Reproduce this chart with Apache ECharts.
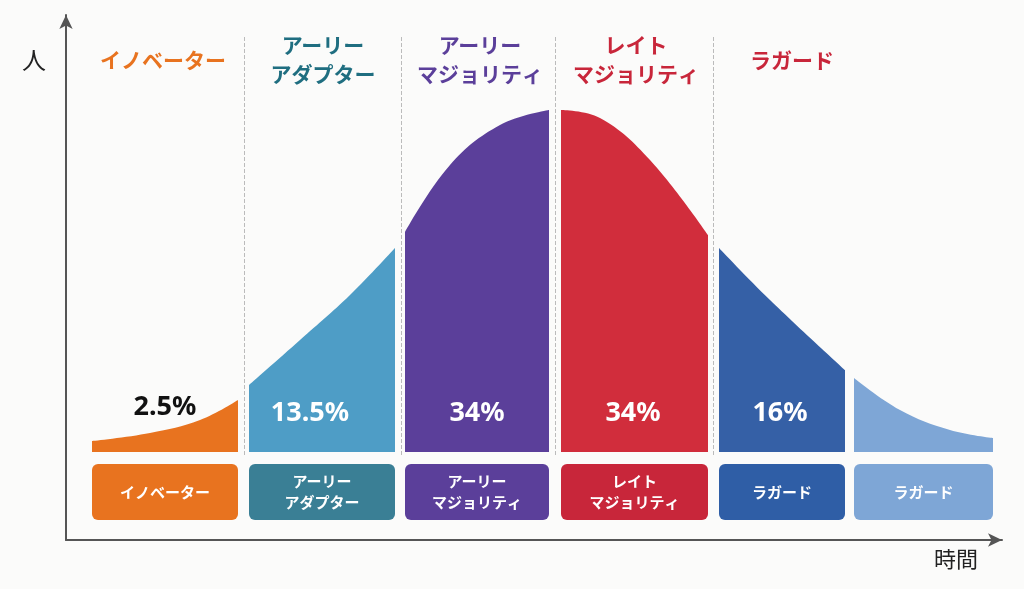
<!DOCTYPE html>
<html><head><meta charset="utf-8">
<script src="https://cdn.jsdelivr.net/npm/echarts@6/dist/echarts.min.js"></script>
<style>html,body{margin:0;background:#fbfbfa}#c{width:1024px;height:589px}</style>
</head><body><div id="c"></div>
<script>
// x in pixel-like units from the y axis; heights in units above the x axis
const segNames = ['イノベーター','アーリー\nアダプター','アーリー\nマジョリティ','レイト\nマジョリティ','ラガード','ラガード'];
const percents = ['2.5%','13.5%','34%','34%','16%'];
const curveColors = ['#E8731F','#4E9DC6','#5B3F9A','#D12D3C','#3560A6','#7EA6D6'];
const boxColors = ['#E8731F','#3A7F95','#5B3F9A','#C8263A','#2F5EA6','#7EA6D6'];
const titleColors = ['#E8731F','#1F6E80','#5B3F9A','#C8263A','#C8263A'];
const segX = [[26,84,134,172],[183,234,284,329],[339,384,434,483],[495,534,584,642],[653,704,779],[788,834,884,927]];
const segH = [[99,107,120,140],[155,200,245,292],[308,375,415,430],[430,422,380,305],[292,240,170],[162,130,110,102]];
const segRange = [[26,172],[183,329],[339,483],[495,642],[653,779],[788,927]];
const baseH = 88, boxTop = 76, boxBottom = 20;
const dividers = [178,335,489,647];
const titleX = [97,257,414,570,726];
const pctPos = [[99,133],[244,127],[411,127],[567,127],[714,127]];

function textSeries(points, texts, styleFn){
  return {type:'custom',z:10,silent:true,data:points.map((p,i)=>[p[0],p[1],i]),
    renderItem:(prm,api)=>{
      const c=api.coord([api.value(0),api.value(1)]); const i=api.value(2);
      return {type:'text',x:c[0],y:c[1],style:Object.assign({text:texts[i],align:'center',verticalAlign:'middle'},styleFn(i))};
    }};
}

const series = [];
segX.forEach((xs,i)=>{
  series.push({type:'line',data:xs.map((x,j)=>[x,segH[i][j]]),smooth:0.4,symbol:'none',
    lineStyle:{width:0},areaStyle:{color:curveColors[i],opacity:1,origin:baseH},z:5,silent:true});
});
series.push({type:'custom',z:5,data:segRange.map((r,i)=>[r[0],r[1],i]),
  renderItem:(p,api)=>{
    const a=api.coord([api.value(0),boxTop]), b=api.coord([api.value(1),boxBottom]);
    const i=api.value(2);
    return {type:'group',children:[
      {type:'rect',shape:{x:a[0],y:a[1],width:b[0]-a[0],height:b[1]-a[1],r:6},style:{fill:boxColors[i]}},
      {type:'text',x:(a[0]+b[0])/2,y:(a[1]+b[1])/2,style:{text:segNames[i],fill:'#fff',fontSize:15,fontWeight:'bold',
        fontFamily:'Noto Sans CJK JP',lineHeight:21,align:'center',verticalAlign:'middle'}}]};
  }});
series.push(textSeries(pctPos, percents, i=>({fill:i===0?'#111':'#fff',fontSize:27,fontWeight:'bold',fontFamily:'Noto Sans'})));
series.push(textSeries(titleX.map(x=>[x,480]), segNames, i=>({fill:titleColors[i],fontSize:21,fontWeight:'bold',lineHeight:29,fontFamily:'Noto Sans CJK JP'})));
series.push({type:'line',data:[],z:1,markLine:{symbol:'none',silent:true,label:{show:false},
  lineStyle:{color:'#bbb',type:'dashed',width:1},data:dividers.map(x=>[{coord:[x,85]},{coord:[x,505]}])}});

const chart = echarts.init(document.getElementById('c'));
chart.setOption({
  backgroundColor:'#fbfbfa',animation:false,
  grid:{left:66,right:22,top:15,bottom:49},
  xAxis:{type:'value',min:0,max:936,axisLine:{lineStyle:{color:'#555',width:2},symbol:['none','arrow'],symbolSize:[10,14]},
    axisTick:{show:false},axisLabel:{show:false},splitLine:{show:false}},
  yAxis:{type:'value',min:0,max:525,axisLine:{show:true,lineStyle:{color:'#555',width:2},symbol:['none','arrow'],symbolSize:[10,14]},
    axisTick:{show:false},axisLabel:{show:false},splitLine:{show:false}},
  graphic:[
    {type:'text',left:22,top:48,style:{text:'人',fontSize:24,fill:'#222',fontFamily:'Noto Sans CJK JP'}},
    {type:'text',left:934,top:548,style:{text:'時間',fontSize:22,fill:'#222',fontFamily:'Noto Sans CJK JP'}}
  ],
  series
});
</script></body></html>
